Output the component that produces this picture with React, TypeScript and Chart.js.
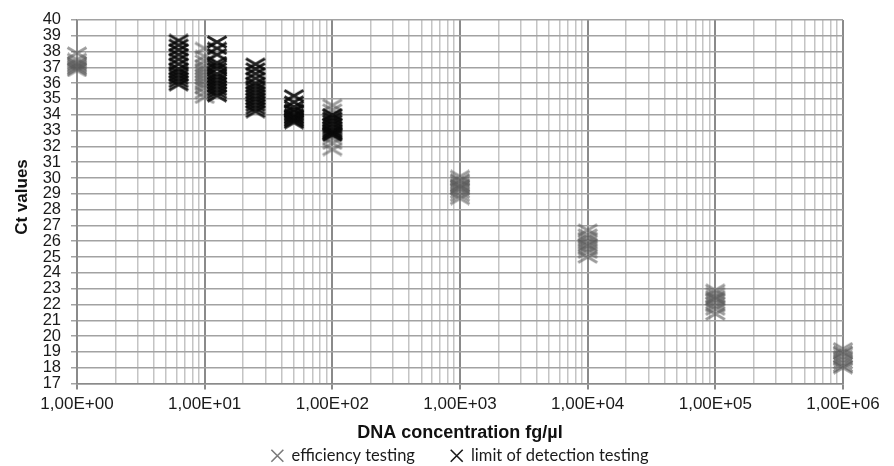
import React, { useEffect, useRef } from "react";
import { Chart, registerables } from "chart.js";

Chart.register(...registerables);

const seriesNames = ["efficiency testing", "limit of detection testing"];
const xTickLabels = ["1,00E+00", "1,00E+01", "1,00E+02", "1,00E+03", "1,00E+04", "1,00E+05", "1,00E+06"];
const xDecades = [1, 10, 100, 1000, 10000, 100000, 1000000];
const yMin = 17;
const yMax = 40;

const efficiencyConc = [1, 10, 100, 1000, 10000, 100000, 1000000];
const efficiencyCt = [
  [37.9, 37.5, 37.3, 37.2, 37.1, 37.0, 36.9, 36.8],
  [38.2, 37.7, 37.4, 37.1, 36.9, 36.7, 36.5, 36.3, 36.1, 35.9, 35.7, 35.4, 35.1],
  [34.6, 34.3, 34.0, 33.7, 33.4, 33.1, 32.8, 32.5, 32.2, 31.8],
  [30.1, 29.9, 29.8, 29.6, 29.5, 29.4, 29.3, 29.1, 28.9, 28.7],
  [26.7, 26.4, 26.2, 26.0, 25.8, 25.7, 25.5, 25.3, 25.0],
  [22.9, 22.7, 22.5, 22.4, 22.3, 22.1, 21.9, 21.7, 21.4],
  [19.2, 19.0, 18.9, 18.7, 18.5, 18.3, 18.1, 18.0],
];

const lodConc = [6.25, 12.5, 25, 50, 100];
const lodCt = [
  [38.7, 38.4, 38.1, 37.8, 37.5, 37.2, 36.9, 36.7, 36.5, 36.3, 36.1, 35.9],
  [38.6, 38.2, 37.8, 37.3, 37.1, 36.9, 36.6, 36.4, 36.2, 36.0, 35.8, 35.6, 35.4, 35.2],
  [37.2, 36.9, 36.6, 36.3, 36.0, 35.8, 35.6, 35.4, 35.2, 35.0, 34.8, 34.6, 34.4, 34.2],
  [35.2, 34.8, 34.5, 34.3, 34.2, 34.0, 33.9, 33.8, 33.7, 33.6, 33.5],
  [34.0, 33.8, 33.6, 33.4, 33.2, 33.0, 32.9, 32.8, 32.7],
];

const toPoints = (conc: number[], ct: number[][]) =>
  conc.flatMap((c, i) => ct[i].map((v) => ({ x: c, y: v })));

function makeCross(color: string): HTMLCanvasElement {
  const c = document.createElement("canvas");
  c.width = 22;
  c.height = 14;
  const g = c.getContext("2d")!;
  g.strokeStyle = color;
  g.lineWidth = 3;
  g.beginPath();
  g.moveTo(1.5, 1.5);
  g.lineTo(20.5, 12.5);
  g.moveTo(1.5, 12.5);
  g.lineTo(20.5, 1.5);
  g.stroke();
  return c;
}

export default function App() {
  const ref = useRef<HTMLCanvasElement | null>(null);

  useEffect(() => {
    document.body.style.margin = "0";
    if (!ref.current) return;
    const grayMark = makeCross("rgba(90,90,90,0.6)");
    const blackMark = makeCross("rgba(10,10,10,0.9)");
    const tickFont = { family: "'Liberation Sans', Arial, sans-serif", size: 17 };

    const chart = new Chart(ref.current, {
      type: "scatter",
      data: {
        datasets: [
          {
            label: seriesNames[0],
            data: toPoints(efficiencyConc, efficiencyCt),
            pointStyle: grayMark as any,
            order: 2,
            clip: false as any,
          },
          {
            label: seriesNames[1],
            data: toPoints(lodConc, lodCt),
            pointStyle: blackMark as any,
            order: 1,
            clip: false as any,
          },
        ],
      },
      options: {
        animation: false,
        responsive: false,
        events: [],
        layout: { padding: { top: 18, right: 51, bottom: -8, left: 0 } },
        plugins: {
          tooltip: { enabled: false },
          legend: {
            position: "bottom",
            fullSize: false,
            labels: {
              usePointStyle: true,
              boxHeight: 12,
              boxWidth: 12,
              padding: 2,
              color: "#1a1a1a",
              font: { family: "Lato, sans-serif", size: 16.5 },
              generateLabels: () => [
                {
                  text: seriesNames[0] + "        ",
                  pointStyle: "crossRot",
                  strokeStyle: "#7a7a7a",
                  fillStyle: "#7a7a7a",
                  lineWidth: 1.6,
                  hidden: false,
                  datasetIndex: 0,
                  fontColor: "#1a1a1a",
                } as any,
                {
                  text: seriesNames[1],
                  pointStyle: "crossRot",
                  strokeStyle: "#1a1a1a",
                  fillStyle: "#1a1a1a",
                  lineWidth: 1.6,
                  hidden: false,
                  datasetIndex: 1,
                  fontColor: "#1a1a1a",
                } as any,
              ],
            },
          },
        },
        scales: {
          x: {
            type: "logarithmic",
            min: xDecades[0],
            max: xDecades[xDecades.length - 1],
            afterBuildTicks: (scale: any) => {
              const ticks: { value: number }[] = [];
              xDecades.forEach((d, i) => {
                if (i < xDecades.length - 1) {
                  for (let m = 1; m <= 9; m++) ticks.push({ value: d * m });
                } else {
                  ticks.push({ value: d });
                }
              });
              scale.ticks = ticks;
            },
            afterFit: (scale: any) => {
              scale.height = 62;
            },
            ticks: {
              autoSkip: false,
              maxRotation: 0,
              minRotation: 0,
              padding: 5,
              color: "#1a1a1a",
              font: tickFont,
              callback: (value: any) => {
                const i = xDecades.indexOf(Number(value));
                return i >= 0 ? xTickLabels[i] : "";
              },
            },
            grid: {
              color: (ctx: any) => (xDecades.includes(ctx.tick?.value) ? "#8a8a8a" : "#c4c4c4"),
              lineWidth: (ctx: any) => (xDecades.includes(ctx.tick?.value) ? 2 : 1.5),
              tickColor: (ctx: any) => (xDecades.includes(ctx.tick?.value) ? "#8a8a8a" : "rgba(0,0,0,0)"),
              tickLength: 6,
            },
            border: { color: "#8a8a8a", width: 1.5 },
            title: {
              display: true,
              text: "DNA concentration fg/µl",
              color: "#111",
              font: { family: "'Liberation Sans', Arial, sans-serif", size: 18, weight: "bold" },
              padding: { top: 0, bottom: 2 },
            },
          },
          y: {
            type: "linear",
            min: yMin,
            max: yMax,
            afterFit: (scale: any) => {
              scale.width = 77;
            },
            ticks: {
              stepSize: 1,
              autoSkip: false,
              padding: 10,
              color: "#1a1a1a",
              font: { family: "'Liberation Sans', Arial, sans-serif", size: 16.5 },
            },
            grid: {
              color: "#a2a2a2",
              lineWidth: 1.5,
              tickColor: "#a2a2a2",
              tickLength: 6,
            },
            border: { color: "#8a8a8a", width: 1.5 },
            title: {
              display: true,
              text: "  Ct values",
              color: "#111",
              font: { family: "'Liberation Sans', Arial, sans-serif", size: 17, weight: "bold" },
              padding: { top: 12, bottom: 0 },
            },
          },
        },
      },
    });
    return () => chart.destroy();
  }, []);

  return (
    <div style={{ width: 894, height: 466 }}>
      <canvas ref={ref} width={894} height={466} />
    </div>
  );
}
